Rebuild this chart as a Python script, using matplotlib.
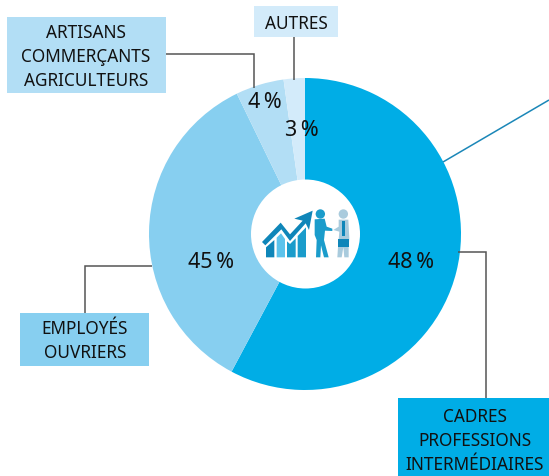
import matplotlib
matplotlib.use("Agg")
import matplotlib.pyplot as plt
from matplotlib.patches import Circle, Polygon, Rectangle

W, H = 549, 477
# Wedge shares as drawn in the picture (they differ from the printed labels)
categories = ["CADRES\nPROFESSIONS\nINTERMÉDIAIRES", "EMPLOYÉS\nOUVRIERS",
              "ARTISANS\nCOMMERÇANTS\nAGRICULTEURS", "AUTRES"]
wedge_shares = [57.8, 35.0, 5.0, 2.2]
printed_labels = ["48\u2009%", "45\u2009%", "4\u2009%", "3\u2009%"]
colors = ["#00ADE6", "#87CFF0", "#B2DEF5", "#D3EBFA"]

FONT = "Noto Sans"
plt.rcParams["font.family"] = FONT
fig = plt.figure(figsize=(W / 100, H / 100), dpi=100)
ax = fig.add_axes([0, 0, 1, 1])
Y = lambda y: H - y - 1

ax.pie(wedge_shares, colors=colors, startangle=90, counterclock=False,
       center=(305, Y(234)), radius=156, frame=True)
ax.set_xlim(0, W)
ax.set_ylim(0, H)
ax.set_aspect("equal")
ax.axis("off")
ax.add_patch(Circle((305.5, Y(234)), 54.5, fc="white", ec="none", zorder=5))

# Leader lines
def line(pts, c="#555555", lw=1.1):
    ax.plot([p[0] for p in pts], [Y(p[1]) for p in pts], color=c, lw=lw, zorder=1,
            solid_joinstyle="miter", solid_capstyle="butt")

line([(166, 54), (254, 54), (254, 88)])
line([(294, 37), (294, 80)])
line([(458, 252), (486, 252), (486, 398)])
line([(85, 313), (85, 266), (152, 266)])
line([(443, 162), (549, 100)], c="#1B87B8")

# Label boxes
boxes = [(398, 398, 151, 80, colors[0], (475, 440)),
         (20, 313, 129, 53, colors[1], (85, 340)),
         (7, 17, 159, 76, colors[2], (86, 56)),
         (254, 6, 84, 31, colors[3], (296, 23))]
for (x, y, w, h, c, tp), cat in zip(boxes, categories):
    ax.add_patch(Rectangle((x, Y(y + h)), w, h, fc=c, ec="none", zorder=2))
    ax.text(tp[0], Y(tp[1]), cat, ha="center", va="center", fontsize=12.4,
            color="#111111", linespacing=1.46, zorder=3)

# Value labels
label_pos = [(411, 262), (211, 262), (265, 102), (302, 129)]
for (x, y), t in zip(label_pos, printed_labels):
    ax.text(x, Y(y), t, ha="center", va="center", fontsize=15.5, color="#111111", zorder=4)

# Icon (decorative; coordinates from the 3x crop at offset 240,170)
def Z(zx, zy):
    return (240 + zx / 3, Y(170 + zy / 3))
def poly(pts, c):
    ax.add_patch(Polygon([Z(*p) for p in pts], closed=True, fc=c, ec="none", zorder=6))

DARK, MID, LIGHT, PALE = "#0F86B9", "#1A9CCB", "#5CC3EC", "#A9CBDD"
poly([(78, 232), (103, 210), (103, 262), (78, 262)], DARK)
poly([(110, 203), (123, 190), (135, 207), (135, 262), (110, 262)], LIGHT)
poly([(141, 214), (150, 222), (167, 205), (167, 262), (141, 262)], MID)
poly([(173, 198), (198, 172), (198, 262), (173, 262)], MID)
poly([(66, 216), (122, 158), (150, 193), (188, 152), (163, 146), (218, 122),
      (207, 180), (197, 160), (150, 213), (124, 178), (76, 226)], DARK)
# left figure
ax.add_patch(Circle(Z(241, 132), 4.7, fc=MID, ec="none", zorder=6))
poly([(224, 148), (254, 146), (260, 170), (277, 176), (277, 183), (255, 182), (252, 210),
      (266, 262), (252, 262), (243, 226), (241, 262), (228, 262), (230, 210), (224, 195)], MID)
# right figure
ax.add_patch(Circle(Z(310, 132), 4.7, fc=PALE, ec="none", zorder=6))
poly([(296, 149), (325, 149), (328, 205), (326, 232), (326, 262), (313, 262), (310, 232),
      (305, 262), (292, 262), (294, 232), (298, 185), (280, 180), (296, 170)], PALE)
poly([(305, 152), (315, 152), (315, 198), (305, 198)], DARK)
poly([(294, 206), (327, 206), (327, 232), (294, 232)], DARK)

fig.savefig("out.png", dpi=100)
